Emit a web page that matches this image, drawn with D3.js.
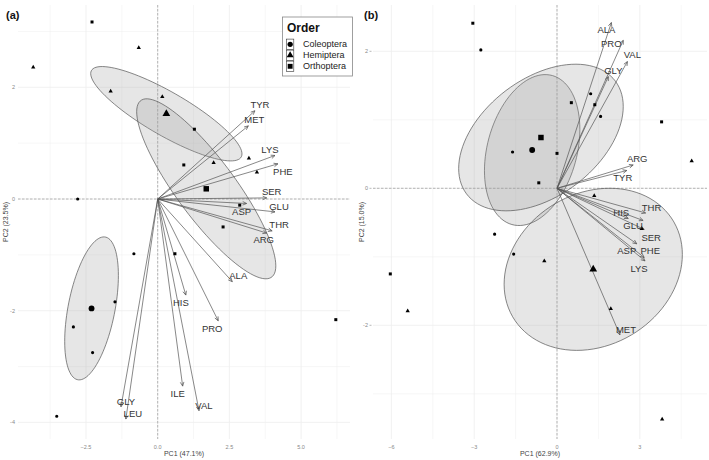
<!DOCTYPE html>
<html>
<head>
<meta charset="utf-8">
<script src="https://cdn.jsdelivr.net/npm/d3@7"></script>
<style>
  body { margin: 0; background: #fff; }
  svg { display: block; font-family: "Liberation Sans", Arial, sans-serif; }
</style>
</head>
<body>
<svg id="chart" width="709" height="460"></svg>
<script>
(function() {

  'use strict';

  // Groups (index used in the *Order arrays below).
  var orders = ["Coleoptera", "Hemiptera", "Orthoptera"];

  // Panel (a): sample scores.
  var aPC1   = [-2.79, -0.83, -1.49, -2.94, -2.27, -3.52,
                -4.34, -0.66, -1.64,  0.16,  1.95,  3.18,  3.46,
                -2.29,  1.28,  0.91,  2.86,  2.28,  0.60,  6.21];
  var aPC2   = [ 0.00, -0.98, -1.84, -2.29, -2.75, -3.89,
                 2.36,  2.71,  1.93,  1.83,  0.65,  0.73,  0.48,
                 3.17,  1.25,  0.61, -0.11, -0.50, -0.98, -2.16];
  var aOrder = [0, 0, 0, 0, 0, 0, 1, 1, 1, 1, 1, 1, 1, 2, 2, 2, 2, 2, 2, 2];

  // Panel (a): variable loadings.
  var aVars  = ["TYR", "MET", "LYS", "PHE", "SER", "GLU", "ASP", "THR",
                "ARG", "ALA", "HIS", "PRO", "ILE", "VAL", "GLY", "LEU"];
  var aLoad1 = [3.39, 3.16, 4.09, 4.19, 3.80, 4.09, 3.10, 3.99,
                3.80, 2.60, 0.98, 2.11, 0.87, 1.44, -1.28, -1.11];
  var aLoad2 = [1.58, 1.31, 0.78, 0.63, 0.02, -0.23, -0.08, -0.57,
                -0.61, -1.48, -1.72, -2.18, -3.35, -3.79, -3.72, -3.94];

  // Panel (b): sample scores.
  var bPC1   = [-2.76,  1.22,  1.58, -1.61, -2.26, -1.57,
                 4.88,  1.35,  3.07, -0.46, -5.41,  1.95,  3.81,
                -3.05,  0.52,  1.37,  0.00, -0.66, -6.04,  3.79];
  var bPC2   = [ 2.02,  1.38,  1.05,  0.53, -0.67, -0.96,
                 0.40, -0.11, -0.59, -1.06, -1.79, -1.76, -3.37,
                 2.41,  1.25,  1.22,  0.51,  0.08, -1.25,  0.97];
  var bOrder = [0, 0, 0, 0, 0, 0, 1, 1, 1, 1, 1, 1, 1, 2, 2, 2, 2, 2, 2, 2];

  // Panel (b): variable loadings.
  var bVars  = ["ALA", "PRO", "VAL", "GLY", "ARG", "TYR", "THR",
                "HIS", "GLU", "SER", "ASP", "PHE", "LYS", "MET"];
  var bLoad1 = [1.97, 2.40, 2.55, 1.86, 2.76, 2.53, 3.21,
                2.58, 3.12, 3.16, 2.89, 3.16, 3.19, 2.28];
  var bLoad2 = [2.42, 2.16, 1.85, 1.63, 0.34, 0.26, -0.36,
                -0.44, -0.47, -0.60, -0.81, -1.01, -1.06, -2.14];

  // Tick labels.
  var aTicksX = [-2.5, 0, 2.5, 5];
  var aTicksY = [-4, -2, 0, 2];
  var bTicksX = [-6, -3, 0, 3];
  var bTicksY = [-2, 0, 2];

  // Label placement relative to arrow tip (pixels).
  var aNudge = {
    TYR: [5, -6], MET: [6, -6], LYS: [-5, -6], PHE: [5, 8], SER: [5, -6],
    GLU: [4, -5], ASP: [-5, 8], THR: [7, -6], ARG: [-3, 7], ALA: [6, -6],
    HIS: [-5, 8], PRO: [-6, 8], ILE: [-5, 8], VAL: [5, -5], GLY: [5, -5],
    LEU: [7, -5]
  };
  var bNudge = {
    ALA: [-5, 7], PRO: [-12, 3], VAL: [5, -7], GLY: [5, -6], ARG: [4, -6],
    TYR: [-4, 7], THR: [6, -5], HIS: [-7, -6], GLU: [-10, 5], SER: [7, 8],
    ASP: [-10, 7], PHE: [6, -7], LYS: [-6, 8], MET: [6, -5]
  };

  var svg = d3.select("#chart");
  svg.append("rect").attr("width", 709).attr("height", 460).attr("fill", "#fff");

  var shapes = [d3.symbolCircle, d3.symbolTriangle, d3.symbolSquare];
  var smallSize = [8, 8, 9];
  var bigSize   = [27, 26, 30];
  var ellipseScale = 0.94; // radius in standard deviations

  // Open arrow head shared by both panels.
  svg.append("defs").append("marker")
     .attr("id", "head")
     .attr("viewBox", "-5 -3 6 6")
     .attr("refX", 0).attr("refY", 0)
     .attr("markerWidth", 6).attr("markerHeight", 6)
     .attr("markerUnits", "userSpaceOnUse")
     .attr("orient", "auto")
     .append("path")
     .attr("d", "M-4,-1.8L0,0L-4,1.8")
     .attr("fill", "none")
     .attr("stroke", "#555")
     .attr("stroke-width", 0.7);

  drawPanel({
    tag: "(a)", tagX: 6,
    x: d3.scaleLinear().domain([-4.871, 6.705]).range([18, 350]),
    y: d3.scaleLinear().domain([-4.297, 3.474]).range([439, 5]),
    ticksX: aTicksX, ticksY: aTicksY, fmtX: d3.format(".1f"),
    titleX: "PC1 (47.1%)", titleY: "PC2 (23.5%)", titleYx: 6,
    pc1: aPC1, pc2: aPC2, grp: aOrder,
    vars: aVars, l1: aLoad1, l2: aLoad2, nudge: aNudge,
    yTickMarks: false
  });

  drawPanel({
    tag: "(b)", tagX: 364,
    x: d3.scaleLinear().domain([-6.667, 5.435]).range([373, 707]),
    y: d3.scaleLinear().domain([-3.660, 2.676]).range([439, 5]),
    ticksX: bTicksX, ticksY: bTicksY, fmtX: d3.format("d"),
    titleX: "PC1 (62.9%)", titleY: "PC2 (15.0%)", titleYx: 362,
    pc1: bPC1, pc2: bPC2, grp: bOrder,
    vars: bVars, l1: bLoad1, l2: bLoad2, nudge: bNudge,
    yTickMarks: true
  });

  drawLegend();

  function drawPanel(p) {
    var g = svg.append("g");
    var x = p.x, y = p.y;
    var x0 = x.range()[0], x1 = x.range()[1];
    var y0 = y.range()[1], y1 = y.range()[0];

    // Minor and major grid.
    var stepX = p.ticksX[1] - p.ticksX[0];
    var stepY = p.ticksY[1] - p.ticksY[0];
    var minorX = d3.range(p.ticksX[0] - stepX, x.domain()[1], stepX / 2)
                   .filter(function(v) { return v > x.domain()[0]; });
    var minorY = d3.range(p.ticksY[0] - stepY, y.domain()[1], stepY / 2)
                   .filter(function(v) { return v > y.domain()[0]; });

    g.selectAll(".gx").data(minorX).enter().append("line")
     .attr("x1", x).attr("x2", x).attr("y1", y0).attr("y2", y1)
     .attr("stroke", "#eeeeee")
     .attr("stroke-width", function(v) { return p.ticksX.indexOf(v) >= 0 ? 0.8 : 0.5; });
    g.selectAll(".gy").data(minorY).enter().append("line")
     .attr("y1", y).attr("y2", y).attr("x1", x0).attr("x2", x1)
     .attr("stroke", "#eeeeee")
     .attr("stroke-width", function(v) { return p.ticksY.indexOf(v) >= 0 ? 0.8 : 0.5; });

    // Zero reference lines.
    g.append("line")
     .attr("x1", x(0)).attr("x2", x(0)).attr("y1", y0).attr("y2", y1)
     .attr("stroke", "#999").attr("stroke-width", 0.7).attr("stroke-dasharray", "2.5,1.5");
    g.append("line")
     .attr("x1", x0).attr("x2", x1).attr("y1", y(0)).attr("y2", y(0))
     .attr("stroke", "#999").attr("stroke-width", 0.7).attr("stroke-dasharray", "2.5,1.5");

    // Tick labels.
    g.selectAll(".tx").data(p.ticksX).enter().append("text")
     .attr("x", x).attr("y", 449)
     .attr("text-anchor", "middle")
     .attr("font-size", 5.5).attr("fill", "#888")
     .text(p.fmtX);
    g.selectAll(".ty").data(p.ticksY).enter().append("text")
     .attr("x", x0 - (p.yTickMarks ? 5 : 3)).attr("y", y).attr("dy", "0.35em")
     .attr("text-anchor", "end")
     .attr("font-size", 5.5).attr("fill", "#888")
     .text(function(v) { return String(v).replace("\u2212", "-"); });
    if(p.yTickMarks) {
      g.selectAll(".tm").data(p.ticksY).enter().append("line")
       .attr("x1", x0 - 3.5).attr("x2", x0 - 1.5).attr("y1", y).attr("y2", y)
       .attr("stroke", "#888").attr("stroke-width", 0.6);
    }

    // Axis titles.
    g.append("text")
     .attr("x", (x0 + x1) / 2).attr("y", 456)
     .attr("text-anchor", "middle").attr("font-size", 7).attr("fill", "#444")
     .text(p.titleX);
    g.append("text")
     .attr("transform", "translate(" + p.titleYx + "," + ((y0 + y1) / 2) + ") rotate(-90)")
     .attr("dy", "0.35em")
     .attr("text-anchor", "middle").attr("font-size", 7).attr("fill", "#444")
     .text(p.titleY);

    // Panel tag.
    g.append("text")
     .attr("x", p.tagX).attr("y", 19)
     .attr("font-size", 11).attr("font-weight", "bold").attr("fill", "#111")
     .text(p.tag);

    // Group ellipses from the covariance of each group's scores.
    var groups = orders.map(function(name, k) {
      var idx = d3.range(p.pc1.length).filter(function(i) { return p.grp[i] === k; });
      return {
        k: k,
        xs: idx.map(function(i) { return p.pc1[i]; }),
        ys: idx.map(function(i) { return p.pc2[i]; })
      };
    });

    var line = d3.line().x(function(d) { return x(d[0]); }).y(function(d) { return y(d[1]); });

    g.selectAll(".ell").data(groups).enter().append("path")
     .attr("d", function(gr) { return line(ellipse(gr.xs, gr.ys)) + "Z"; })
     .attr("fill", "#9a9a9a").attr("fill-opacity", 0.25)
     .attr("stroke", "#555").attr("stroke-width", 0.7);

    // Loadings arrows.
    var vars = p.vars.map(function(v, i) { return { name: v, a: p.l1[i], b: p.l2[i] }; });
    g.selectAll(".arr").data(vars).enter().append("line")
     .attr("x1", x(0)).attr("y1", y(0))
     .attr("x2", function(d) { return x(d.a); })
     .attr("y2", function(d) { return y(d.b); })
     .attr("stroke", "#555").attr("stroke-width", 0.7)
     .attr("marker-end", "url(#head)");

    // Sample points.
    var pts = p.pc1.map(function(v, i) { return { a: v, b: p.pc2[i], k: p.grp[i] }; });
    g.selectAll(".pt").data(pts).enter().append("path")
     .attr("transform", function(d) { return "translate(" + x(d.a) + "," + y(d.b) + ")"; })
     .attr("d", function(d) { return d3.symbol().type(shapes[d.k]).size(smallSize[d.k])(); })
     .attr("fill", "#000");

    // Group centroids.
    g.selectAll(".ctr").data(groups).enter().append("path")
     .attr("transform", function(gr) {
       return "translate(" + x(d3.mean(gr.xs)) + "," + y(d3.mean(gr.ys)) + ")";
     })
     .attr("d", function(gr) { return d3.symbol().type(shapes[gr.k]).size(bigSize[gr.k])(); })
     .attr("fill", "#000");

    // Variable names.
    g.selectAll(".lab").data(vars).enter().append("text")
     .attr("x", function(d) { return x(d.a) + p.nudge[d.name][0]; })
     .attr("y", function(d) { return y(d.b) + p.nudge[d.name][1]; })
     .attr("dy", "0.35em")
     .attr("text-anchor", "middle")
     .attr("font-size", 9.5).attr("fill", "#333")
     .text(function(d) { return d.name; });
  }

  // Covariance ellipse (centre = mean, axes from Cholesky factor).
  function ellipse(xs, ys) {
    var mx = d3.mean(xs), my = d3.mean(ys), n = xs.length;
    var sxx = 0, syy = 0, sxy = 0;
    for(var i = 0; i < n; i++) {
      sxx += (xs[i] - mx) * (xs[i] - mx);
      syy += (ys[i] - my) * (ys[i] - my);
      sxy += (xs[i] - mx) * (ys[i] - my);
    }
    sxx /= n - 1; syy /= n - 1; sxy /= n - 1;
    var r11 = Math.sqrt(sxx), r12 = sxy / r11, r22 = Math.sqrt(syy - r12 * r12);
    return d3.range(0, 101).map(function(j) {
      var t = j / 100 * 2 * Math.PI, c = Math.cos(t), s = Math.sin(t);
      return [mx + ellipseScale * c * r11,
              my + ellipseScale * (c * r12 + s * r22)];
    });
  }

  function drawLegend() {
    var lg = svg.append("g");
    lg.append("rect")
      .attr("x", 282.5).attr("y", 17).attr("width", 70).attr("height", 59)
      .attr("fill", "#fff").attr("stroke", "#888").attr("stroke-width", 0.8);
    lg.append("text")
      .attr("x", 287).attr("y", 31.5)
      .attr("font-size", 12).attr("font-weight", "bold").attr("fill", "#111")
      .text("Order");
    var rowY = d3.scaleLinear().domain([0, 2]).range([44.3, 66.3]);
    var item = lg.selectAll(".it").data(orders).enter().append("g")
      .attr("transform", function(d, i) { return "translate(0," + rowY(i) + ")"; });
    item.append("rect")
      .attr("x", 286.5).attr("y", -5.2).attr("width", 7.3).attr("height", 10.4)
      .attr("fill", "#fff").attr("stroke", "#333").attr("stroke-width", 0.6);
    item.append("path")
      .attr("transform", "translate(290.15,0)")
      .attr("d", function(d, i) { return d3.symbol().type(shapes[i]).size(bigSize[i] * 0.8)(); })
      .attr("fill", "#000");
    item.append("text")
      .attr("x", 303).attr("y", 0).attr("dy", "0.35em")
      .attr("font-size", 9).attr("fill", "#222")
      .text(function(d) { return d; });
  }

})();
</script>
</body>
</html>
